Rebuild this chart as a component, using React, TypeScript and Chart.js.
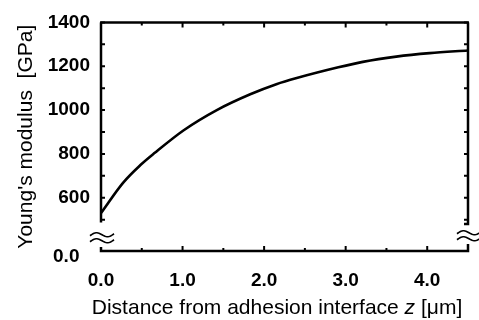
import React, { useEffect, useRef } from "react";
import { Chart, registerables } from "chart.js";

Chart.register(...registerables);

// Data
const zValues = [0, 0.27, 0.48, 0.66, 1.01, 1.42, 1.83, 2.15, 2.4, 2.91, 3.21, 3.62, 4.03, 4.5];
const modulusValues = [530, 668, 748, 805, 907, 1000, 1072, 1118, 1146, 1195, 1220, 1244, 1260, 1272];

const xTickValues = [0, 1, 2, 3, 4];
const xMinorTickValues = [0.5, 1, 1.5, 2, 2.5, 3, 3.5, 4];
const yTickValues = [600, 800, 1000, 1200, 1400];
const yMinorTickValues = [500, 600, 700, 800, 900, 1000, 1100, 1200, 1300, 1400];
const zeroLabel = "0.0";

const X_MIN = 0;
const X_MAX = 4.5;
const Y_MIN = 357;
const Y_MAX = 1400;
const Y_ZERO_POS = 331; // where the broken-axis "0.0" label sits
const Y_LEFT_AXIS_END = 487;
const Y_RIGHT_AXIS_END = 480;

const FONT = "'Liberation Sans', Arial, Helvetica, sans-serif";

function wave(ctx: CanvasRenderingContext2D, cx: number, cy: number, w: number, amp: number) {
  ctx.beginPath();
  const n = 24;
  for (let i = 0; i <= n; i++) {
    const t = i / n;
    const x = cx - w / 2 + t * w;
    const y = cy - amp * Math.sin(2 * Math.PI * t) - (t - 0.5) * 2;
    if (i === 0) ctx.moveTo(x, y);
    else ctx.lineTo(x, y);
  }
  ctx.stroke();
}

const framePlugin = {
  id: "frame",
  afterDatasetsDraw(chart: any) {
    const { ctx, chartArea, scales } = chart;
    const xs = scales.x;
    const ys = scales.y;
    const { left, right, top, bottom } = chartArea;
    ctx.save();
    ctx.strokeStyle = "#000";
    ctx.lineCap = "butt";
    ctx.lineWidth = 2.5;
    // top
    ctx.beginPath();
    ctx.moveTo(left - 1, top);
    ctx.lineTo(right + 1, top);
    ctx.stroke();
    // left axis (broken)
    ctx.beginPath();
    ctx.moveTo(left, top);
    ctx.lineTo(left, ys.getPixelForValue(Y_LEFT_AXIS_END));
    ctx.stroke();
    // right axis (broken)
    ctx.beginPath();
    ctx.moveTo(right, top);
    ctx.lineTo(right, ys.getPixelForValue(Y_RIGHT_AXIS_END));
    ctx.lineTo(right - 4, ys.getPixelForValue(Y_RIGHT_AXIS_END));
    ctx.stroke();
    // bottom axis with stubs
    ctx.beginPath();
    ctx.moveTo(left, bottom - 4);
    ctx.lineTo(left, bottom);
    ctx.lineTo(right, bottom);
    ctx.lineTo(right, bottom - 7);
    ctx.stroke();

    // ticks
    ctx.lineWidth = 2;
    for (const v of yMinorTickValues) {
      const y = ys.getPixelForValue(v);
      ctx.beginPath();
      ctx.moveTo(left, y);
      ctx.lineTo(left + 4, y);
      ctx.moveTo(right, y);
      ctx.lineTo(right - 4, y);
      ctx.stroke();
    }
    for (const v of xMinorTickValues) {
      const x = xs.getPixelForValue(v);
      const len = Number.isInteger(v) ? 5 : 3;
      ctx.beginPath();
      ctx.moveTo(x, top);
      ctx.lineTo(x, top + len);
      ctx.moveTo(x, bottom);
      ctx.lineTo(x, bottom - len);
      ctx.stroke();
    }

    // break symbols
    ctx.lineWidth = 1.6;
    const yb = (ys.getPixelForValue(Y_LEFT_AXIS_END) + bottom) / 2 + 1;
    wave(ctx, left + 1, yb - 3, 24, 2.5);
    wave(ctx, left + 1, yb + 3, 24, 2.5);
    const yr = yb - 2;
    wave(ctx, right + 1, yr - 3, 24, 2.5);
    wave(ctx, right + 1, yr + 3, 24, 2.5);

    // x-axis title with italic z
    const parts = [
      { t: "Distance from adhesion interface ", f: `21px ${FONT}` },
      { t: "z", f: `italic 21px ${FONT}` },
      { t: " [\u03bcm]", f: `21px ${FONT}` },
    ];
    let total = 0;
    for (const p of parts) {
      ctx.font = p.f;
      total += ctx.measureText(p.t).width;
    }
    let x = 277 - total / 2;
    ctx.fillStyle = "#000";
    ctx.textBaseline = "middle";
    ctx.textAlign = "left";
    for (const p of parts) {
      ctx.font = p.f;
      ctx.fillText(p.t, x, 308);
      x += ctx.measureText(p.t).width;
    }
    ctx.restore();
  },
};

export default function App() {
  const ref = useRef<HTMLCanvasElement | null>(null);
  useEffect(() => {
    if (!ref.current) return;
    const chart = new Chart(ref.current, {
      type: "line",
      data: {
        datasets: [
          {
            data: zValues.map((z, i) => ({ x: z, y: modulusValues[i] })),
            borderColor: "#000",
            borderWidth: 2.6,
            pointRadius: 0,
            cubicInterpolationMode: "monotone",
            fill: false,
          },
        ],
      },
      options: {
        animation: false,
        responsive: false,
        devicePixelRatio: 1,
        layout: { padding: { left: 0, right: 11, top: 11, bottom: 0 } },
        plugins: { legend: { display: false }, tooltip: { enabled: false } },
        scales: {
          x: {
            type: "linear",
            min: X_MIN,
            max: X_MAX,
            grid: { display: false, drawTicks: false },
            border: { display: false },
            afterBuildTicks: (scale: any) => {
              scale.ticks = xTickValues.map((v) => ({ value: v }));
            },
            afterFit: (scale: any) => {
              scale.height = 69;
            },
            ticks: {
              padding: 18,
              color: "#000",
              font: { family: FONT, size: 19, weight: "bold" },
              callback: (v: any) => Number(v).toFixed(1),
            },
          },
          y: {
            type: "linear",
            min: Y_MIN,
            max: Y_MAX,
            grid: { display: false, drawTicks: false },
            border: { display: false },
            afterBuildTicks: (scale: any) => {
              scale.ticks = [Y_ZERO_POS, ...yTickValues].map((v) => ({ value: v }));
            },
            afterFit: (scale: any) => {
              scale.width = 101;
            },
            title: {
              display: true,
              text: "Young's modulus  [GPa]",
              color: "#000",
              font: { family: FONT, size: 21 },
              padding: { top: 14, bottom: 0 },
            },
            ticks: {
              padding: 11,
              color: "#000",
              font: { family: FONT, size: 19, weight: "bold" },
              callback: (v: any) => (Number(v) === Y_ZERO_POS ? zeroLabel + "  " : String(v)),
            },
          },
        },
      },
      plugins: [framePlugin],
    });
    return () => chart.destroy();
  }, []);
  return (
    <div style={{ position: "absolute", left: 0, top: 0, width: 479, height: 320, background: "#fff" }}>
      <canvas ref={ref} width={479} height={320} />
    </div>
  );
}
